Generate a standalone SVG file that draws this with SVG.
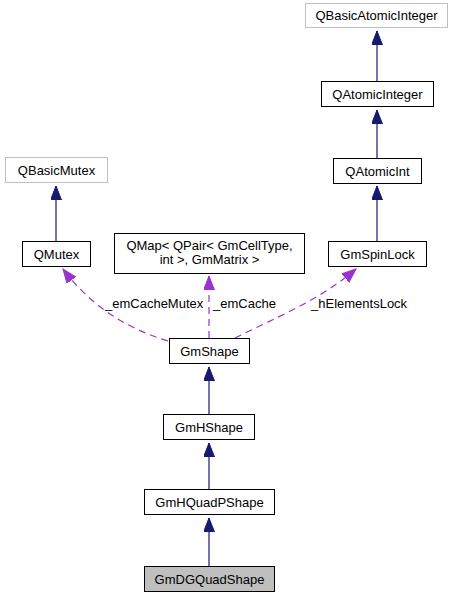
<svg xmlns="http://www.w3.org/2000/svg" width="455" height="597" viewBox="0 0 455 597">
<style>
text{font-family:"Liberation Sans",Arial,sans-serif;font-size:13px;fill:#000;text-anchor:middle}
.lbl{text-anchor:start}
.box{fill:#fff;stroke:#000;stroke-width:1}
.gray{fill:#fff;stroke:#bfbfbf;stroke-width:1}
.cur{fill:#bfbfbf;stroke:#000;stroke-width:1}
.inh{fill:none;stroke:#191970;stroke-width:1.2}
.use{fill:none;stroke:#9a32cd;stroke-width:1.2;stroke-dasharray:7,5}
</style>
<defs>
<marker id="ah" markerUnits="userSpaceOnUse" markerWidth="15" markerHeight="12" refX="14" refY="5.5" orient="auto">
<path d="M0,0 L14,5.5 L0,11 Z" fill="#191970" stroke="#191970" stroke-width="1"/>
</marker>
<marker id="ap" markerUnits="userSpaceOnUse" markerWidth="15" markerHeight="12" refX="14" refY="5.5" orient="auto">
<path d="M0,0 L14,5.5 L0,11 Z" fill="#9a32cd" stroke="#9a32cd" stroke-width="1"/>
</marker>
</defs>
<rect width="455" height="597" fill="#fff"/>
<g id="connectors">
<path class="inh" d="M377,81 L377,31" marker-end="url(#ah)"/>
<path class="inh" d="M377,158 L377,110" marker-end="url(#ah)"/>
<path class="inh" d="M377,241 L377,186" marker-end="url(#ah)"/>
<path class="inh" d="M56,241 L56,186" marker-end="url(#ah)"/>
<path class="inh" d="M209,414 L209,367" marker-end="url(#ah)"/>
<path class="inh" d="M209,489 L209,443" marker-end="url(#ah)"/>
<path class="inh" d="M209,566 L209,518" marker-end="url(#ah)"/>
<path class="use" d="M168,341 C125,328 90,305 63,269" marker-end="url(#ap)"/>
<path class="use" d="M209,338 L209,276" marker-end="url(#ap)"/>
<path class="use" d="M235,338 C275,318 320,300 356,269" marker-end="url(#ap)"/>
<text class="lbl" x="105" y="308">_emCacheMutex</text>
<text class="lbl" x="213" y="308">_emCache</text>
<text class="lbl" x="311" y="308">_hElementsLock</text>
</g>
<g id="QBasicAtomicInteger"><rect class="gray" x="305.5" y="3.5" width="142" height="24"/><text x="376.5" y="20">QBasicAtomicInteger</text></g>
<g id="QAtomicInteger"><rect class="box" x="321.5" y="81.5" width="112" height="25"/><text x="377.5" y="98.5">QAtomicInteger</text></g>
<g id="QAtomicInt"><rect class="box" x="333.5" y="158.5" width="88" height="25"/><text x="377.5" y="175.5">QAtomicInt</text></g>
<g id="GmSpinLock"><rect class="box" x="328.5" y="241.5" width="98" height="25"/><text x="377.5" y="258.5">GmSpinLock</text></g>
<g id="QBasicMutex"><rect class="gray" x="5.5" y="157.5" width="102" height="25"/><text x="56.5" y="174.5">QBasicMutex</text></g>
<g id="QMutex"><rect class="box" x="22.5" y="241.5" width="68" height="25"/><text x="56.5" y="258.5">QMutex</text></g>
<g id="QMap"><rect class="box" x="114.5" y="233.5" width="190" height="40"/><text x="209.5" y="250">QMap&lt; QPair&lt; GmCellType,</text><text x="209.5" y="264">int &gt;, GmMatrix &gt;</text></g>
<g id="GmShape"><rect class="box" x="169.5" y="338.5" width="80" height="25"/><text x="209.5" y="355.5">GmShape</text></g>
<g id="GmHShape"><rect class="box" x="163.5" y="414.5" width="91" height="25"/><text x="209" y="431.5">GmHShape</text></g>
<g id="GmHQuadPShape"><rect class="box" x="144.5" y="489.5" width="130" height="25"/><text x="209.5" y="506.5">GmHQuadPShape</text></g>
<g id="GmDGQuadShape"><rect class="cur" x="144.5" y="566.5" width="130" height="25"/><text x="209.5" y="583.5">GmDGQuadShape</text></g>
</svg>
